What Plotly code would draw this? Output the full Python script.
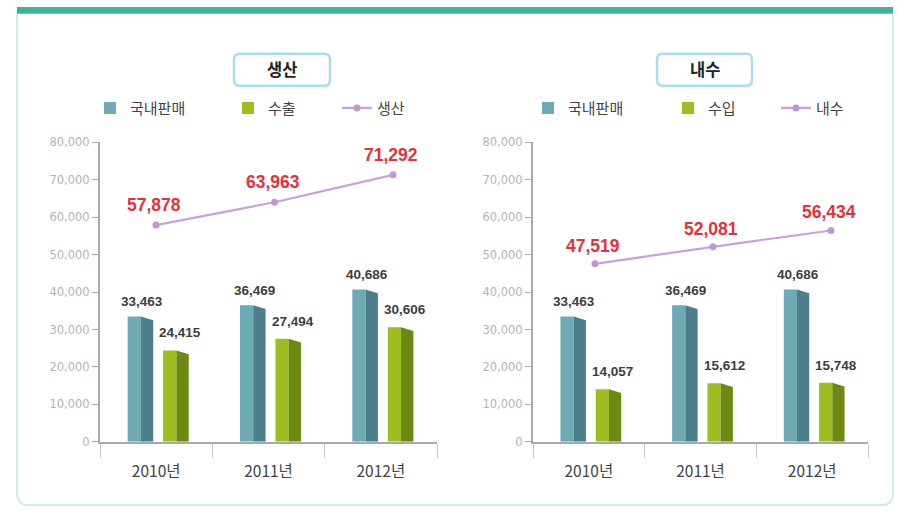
import plotly.graph_objects as go

# ---------------- data ----------------
years = ["2010년", "2011년", "2012년"]
idx = [0, 1, 2]

prod_domestic = [33463, 36469, 40686]   # 국내판매 (생산 chart)
prod_export = [24415, 27494, 30606]     # 수출
prod_total = [57878, 63963, 71292]      # 생산

dem_domestic = [33463, 36469, 40686]    # 국내판매 (내수 chart)
dem_import = [14057, 15612, 15748]      # 수입
dem_total = [47519, 52081, 56434]       # 내수

y_ticks = [0, 10000, 20000, 30000, 40000, 50000, 60000, 70000, 80000]

# ---------------- style ----------------
W, H = 905, 515
BLUE_F, BLUE_S = "#6eaab6", "#4d7f8b"
GREEN_F, GREEN_S = "#9dbd20", "#6c8a12"
LINE_C = "#c7a2d8"
LABEL_C = "#3d3d3d"
RED_C = "#e2313d"
AXIS_C = "#a9a9a9"
KR = "Noto Sans CJK KR"

def px(x):
    return x / W

def py(y):
    return 1 - y / H

def rrect(x0, y0, x1, y1, r):
    pts = [
        ("M", [(x0 + r, y0)]), ("L", [(x1 - r, y0)]), ("Q", [(x1, y0), (x1, y0 + r)]),
        ("L", [(x1, y1 - r)]), ("Q", [(x1, y1), (x1 - r, y1)]), ("L", [(x0 + r, y1)]),
        ("Q", [(x0, y1), (x0, y1 - r)]), ("L", [(x0, y0 + r)]), ("Q", [(x0, y0), (x0 + r, y0)]),
    ]
    s = ""
    for cmd, ps in pts:
        s += cmd + " " + " ".join(f"{px(a):.5f},{py(b):.5f}" for a, b in ps) + " "
    return s + "Z"

fig = go.Figure()

# bar geometry (in category units)
FRONT_W = 0.118
SIDE_W = 0.11
BLUE_OFF = -0.254
GREEN_OFF = 0.062
SLANT = 1000  # visual depth of the side face top

def add_bars(values, off, cf, cs, name, xa, ya, legend):
    fig.add_trace(go.Bar(x=idx, y=values, offset=off, width=FRONT_W, marker_color=cf,
                         marker_line_width=0, name=name, xaxis=xa, yaxis=ya,
                         legend=legend, hoverinfo="skip"))
    xs, ys = [], []
    for i, v in zip(idx, values):
        a = i + off + FRONT_W
        b = a + SIDE_W
        xs += [a, a, b, b, a, None]
        ys += [0, v, v - SLANT, 0, 0, None]
    fig.add_trace(go.Scatter(x=xs, y=ys, fill="toself", fillcolor=cs, mode="lines",
                             line=dict(width=0, color=cs), showlegend=False,
                             xaxis=xa, yaxis=ya, hoverinfo="skip"))

def add_line(values, name, xa, ya, legend):
    fig.add_trace(go.Scatter(x=idx, y=values, mode="lines+markers", name=name,
                             line=dict(color=LINE_C, width=2.2),
                             marker=dict(size=7, color="#bf98d2"),
                             xaxis=xa, yaxis=ya, legend=legend, hoverinfo="skip"))

# left chart: 생산
add_bars(prod_domestic, BLUE_OFF, BLUE_F, BLUE_S, "국내판매", "x", "y", "legend")
add_bars(prod_export, GREEN_OFF, GREEN_F, GREEN_S, "수출", "x", "y", "legend2")
add_line(prod_total, "생산", "x3", "y", "legend3")

# right chart: 내수
add_bars(dem_domestic, BLUE_OFF, BLUE_F, BLUE_S, "국내판매", "x2", "y2", "legend4")
add_bars(dem_import, GREEN_OFF, GREEN_F, GREEN_S, "수입", "x2", "y2", "legend5")
add_line(dem_total, "내수", "x4", "y2", "legend6")

# ---------------- axes ----------------
left_dom = [px(100), px(437)]
right_dom = [px(533), px(868)]
y_dom = [1 - 447 / H, 1 - 139 / H]

def xaxis_cfg(dom, anchor):
    return dict(domain=dom, anchor=anchor, range=[-0.5, 2.5], tickvals=idx, ticktext=years,
                ticks="", showgrid=False, zeroline=False, showline=True,
                linecolor=AXIS_C, linewidth=2, ticklabelstandoff=15,
                tickfont=dict(family=KR, size=15.5, color="#444"),
                minor=dict(tick0=-0.5, dtick=1, ticks="outside", ticklen=14,
                           tickcolor="#c4c4c4", tickwidth=1, showgrid=False))

def yaxis_cfg(anchor):
    return dict(domain=y_dom, anchor=anchor, range=[0, 80000], tickvals=y_ticks,
                tickformat=",d", ticks="outside", ticklen=6, tickcolor=AXIS_C,
                showgrid=False, zeroline=False, showline=True, linecolor=AXIS_C,
                linewidth=2, tickfont=dict(family="DejaVu Sans", size=11.5, color="#b3b3b3"))

layout = dict(
    width=W, height=H, margin=dict(l=0, r=0, t=0, b=0),
    paper_bgcolor="white", plot_bgcolor="rgba(0,0,0,0)",
    barmode="overlay", showlegend=True,
    xaxis=xaxis_cfg(left_dom, "y"), yaxis=yaxis_cfg("x"),
    xaxis2=xaxis_cfg(right_dom, "y2"), yaxis2=yaxis_cfg("x2"),
    xaxis3=dict(domain=left_dom, overlaying="x", anchor="y", range=[-0.4726, 2.371], visible=False),
    xaxis4=dict(domain=right_dom, overlaying="x2", anchor="y2", range=[-0.525, 2.314], visible=False),
)

# legends (one per entry, placed individually)
leg_pos = {"legend": 90, "legend2": 228, "legend3": 337,
           "legend4": 528, "legend5": 668, "legend6": 776}
for k, xpx in leg_pos.items():
    layout[k] = dict(x=px(xpx), y=py(104), xanchor="left", yanchor="middle",
                     orientation="h", bgcolor="rgba(0,0,0,0)",
                     font=dict(family=KR, size=15, color="#444"))

fig.update_layout(**layout)

# ---------------- labels ----------------
def bar_labels(values, dx, xref, yref, ys):
    for i, v in zip(idx, values):
        fig.add_annotation(x=i + dx, y=v, xref=xref, yref=yref, text=f"{v:,}",
                           showarrow=False, yanchor="middle", yshift=ys,
                           font=dict(family="Liberation Sans", size=13.5, color=LABEL_C, weight="bold"))

def line_labels(values, xref, yref, ys):
    for i, v in zip(idx, values):
        fig.add_annotation(x=i, y=v, xref=xref, yref=yref, text=f"<b>{v:,}</b>",
                           showarrow=False, yanchor="middle", yshift=ys, xshift=-2,
                           font=dict(family="Liberation Sans", size=17.5, color=RED_C))

bar_labels(prod_domestic, -0.125, "x", "y", 15)
bar_labels(prod_export, 0.214, "x", "y", 17.5)
bar_labels(dem_domestic, -0.13, "x2", "y2", 15)
bar_labels(dem_import, 0.214, "x2", "y2", 17.5)
line_labels(prod_total, "x3", "y", 20)
line_labels(dem_total, "x4", "y2", 18)

# ---------------- frame & titles ----------------
shapes = []
# card outline
card = (f"M {px(17)},{py(7)} L {px(17)},{py(500)} Q {px(17)},{py(512)} {px(29)},{py(512)} "
        f"L {px(881)},{py(512)} Q {px(893)},{py(512)} {px(893)},{py(500)} L {px(893)},{py(7)}")
shapes.append(dict(type="path", path=card, xref="paper", yref="paper",
                   line=dict(color="#cfece5", width=2), layer="below"))
# teal banner
shapes.append(dict(type="rect", x0=px(17), x1=px(893), y0=py(7), y1=py(0),
                   xref="paper", yref="paper", fillcolor="#3db49f", line=dict(width=0)))
# title boxes
for (x0, x1) in [(234, 330), (657, 752)]:
    shapes.append(dict(type="path", path=rrect(x0 + 1, 50, x1 + 1, 83, 6), xref="paper", yref="paper",
                       fillcolor="#eef3f5", line=dict(width=0), layer="below"))
    shapes.append(dict(type="path", path=rrect(x0, 48, x1, 81, 6), xref="paper", yref="paper",
                       fillcolor="white", line=dict(color="#abdcec", width=2.5), layer="below"))
fig.update_layout(shapes=shapes)

for txt, cx in [("생산", 282), ("내수", 705)]:
    fig.add_annotation(x=px(cx), y=py(64), xref="paper", yref="paper", text=f"<b>{txt}</b>",
                       showarrow=False, xanchor="center", yanchor="middle",
                       font=dict(family=KR, size=16.5, color="#222"))

fig.write_html("out.html", config={"displayModeBar": False},
               post_script="document.body.style.margin='0px';")
